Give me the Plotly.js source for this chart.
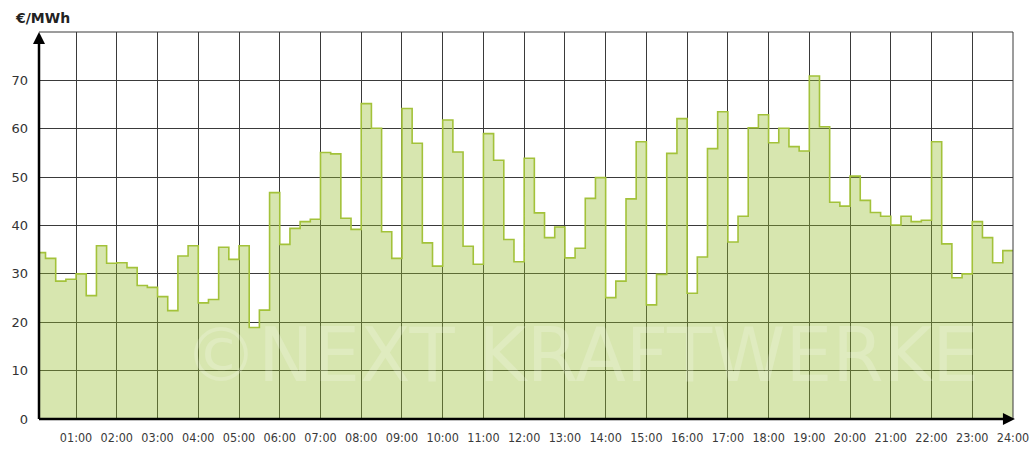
<!DOCTYPE html>
<html>
<head>
<meta charset="utf-8">
<script src="https://cdn.plot.ly/plotly-3.0.1.min.js"></script>
<style>
html,body{margin:0;padding:0;background:#fff;}
#chart{width:1030px;height:449px;}
</style>
</head>
<body>
<div id="chart"></div>
<script>
// Quarter-hourly prices (€/MWh), 96 values, 00:00 - 24:00
const prices = [
  34.4, 33.2, 28.5, 28.9,   // 00
  30.0, 25.5, 35.8, 32.2,   // 01
  32.3, 31.3, 27.6, 27.2,   // 02
  25.3, 22.4, 33.7, 35.8,   // 03
  24.0, 24.7, 35.5, 33.0,   // 04
  35.8, 18.9, 22.5, 46.8,   // 05
  36.1, 39.4, 40.8, 41.3,   // 06
  55.1, 54.8, 41.5, 39.2,   // 07
  65.2, 60.1, 38.7, 33.2,   // 08
  64.2, 57.0, 36.4, 31.6,   // 09
  61.8, 55.2, 35.7, 32.0,   // 10
  59.0, 53.5, 37.1, 32.5,   // 11
  53.9, 42.6, 37.5, 39.7,   // 12
  33.3, 35.3, 45.6, 49.9,   // 13
  25.1, 28.5, 45.5, 57.3,   // 14
  23.6, 29.9, 54.9, 62.1,   // 15
  26.0, 33.5, 55.9, 63.5,   // 16
  36.6, 41.9, 60.2, 62.9,   // 17
  57.1, 60.1, 56.3, 55.4,   // 18
  70.9, 60.4, 44.8, 44.0,   // 19
  50.2, 45.2, 42.7, 41.9,   // 20
  40.1, 41.9, 40.8, 41.1,   // 21
  57.3, 36.2, 29.2, 30.0,   // 22
  40.8, 37.5, 32.3, 34.8    // 23
];
const hourTicks = [1,2,3,4,5,6,7,8,9,10,11,12,13,14,15,16,17,18,19,20,21,22,23,24];
const hourLabels = ["01:00","02:00","03:00","04:00","05:00","06:00","07:00","08:00","09:00","10:00","11:00","12:00",
                    "13:00","14:00","15:00","16:00","17:00","18:00","19:00","20:00","21:00","22:00","23:00","24:00"];
const yTicks = [0,10,20,30,40,50,60,70,80];
const yLabels = ["0","10","20","30","40","50","60","70",""];
const unitLabel = "€/MWh";
const watermark = "©NEXT KRAFTWERKE";

// step positions: each quarter-hour starts at i/4 h; close with end point at 24h
const xs = prices.map((_, i) => i / 4).concat([24]);
const ys = prices.concat([prices[prices.length - 1]]);

const trace = {
  x: xs, y: ys,
  type: 'scatter', mode: 'lines',
  line: {shape: 'hv', color: '#a3c23a', width: 1.6},
  fill: 'tozeroy', fillcolor: 'rgba(150,188,45,0.38)',
  hoverinfo: 'skip'
};

const layout = {
  width: 1030, height: 449,
  margin: {l: 39, r: 17, t: 32, b: 30},
  paper_bgcolor: '#fff', plot_bgcolor: '#fff',
  showlegend: false,
  font: {family: 'DejaVu Sans, Verdana, sans-serif', size: 12, color: '#333'},
  xaxis: {
    range: [0.09, 24], tickvals: hourTicks, ticktext: hourLabels,
    showgrid: true, gridcolor: '#3a3a3a', gridwidth: 1,
    zeroline: false, showline: false, ticks: '',
    ticklabelstandoff: 9,
    tickfont: {family: 'DejaVu Sans Condensed, DejaVu Sans, sans-serif', size: 12.5, color: '#3a3a3a'},
    fixedrange: true
  },
  yaxis: {
    range: [0, 80], tickvals: yTicks, ticktext: yLabels,
    showgrid: true, gridcolor: '#3a3a3a', gridwidth: 1,
    zeroline: false, showline: false, ticks: '',
    ticklabelstandoff: 10,
    tickfont: {family: 'DejaVu Sans, Verdana, sans-serif', size: 13, color: '#333'},
    fixedrange: true
  },
  shapes: [
    {type: 'line', xref: 'paper', yref: 'paper', x0: 0, x1: 1, y0: 1, y1: 1, line: {color: '#3a3a3a', width: 1}},
    {type: 'line', xref: 'paper', yref: 'paper', x0: 1, x1: 1, y0: 0, y1: 1, line: {color: '#3a3a3a', width: 1}},
    {type: 'line', xref: 'paper', yref: 'paper', x0: 0, x1: 0, y0: 0, y1: 0.99, line: {color: '#000', width: 2.5}},
    {type: 'line', xref: 'paper', yref: 'paper', x0: 0, x1: 0.995, y0: 0, y1: 0, line: {color: '#000', width: 2.5}}
  ],
  annotations: [
    {xref: 'paper', yref: 'paper', x: 0, y: 1.0, ax: 0, ay: 14,
     showarrow: true, arrowhead: 2, arrowsize: 1.2, arrowwidth: 2, arrowcolor: '#000', text: ''},
    {xref: 'paper', yref: 'paper', x: 1.002, y: 0, ax: -14, ay: 0,
     showarrow: true, arrowhead: 2, arrowsize: 1.2, arrowwidth: 2, arrowcolor: '#000', text: ''},
    {xref: 'paper', yref: 'paper', x: -0.027, y: 1.036, xanchor: 'left', yanchor: 'middle',
     text: '<b>' + unitLabel + '</b>', showarrow: false,
     font: {family: 'DejaVu Sans, Verdana, sans-serif', size: 14, color: '#222'}},
    {xref: 'paper', yref: 'paper', x: 0.557, y: 0.165, xanchor: 'center', yanchor: 'middle',
     text: watermark, showarrow: false,
     font: {family: 'DejaVu Sans, Verdana, sans-serif', size: 74, color: 'rgba(255,255,255,0.2)'}}
  ]
};

Plotly.newPlot('chart', [trace], layout, {displayModeBar: false, staticPlot: true});
</script>
</body>
</html>
